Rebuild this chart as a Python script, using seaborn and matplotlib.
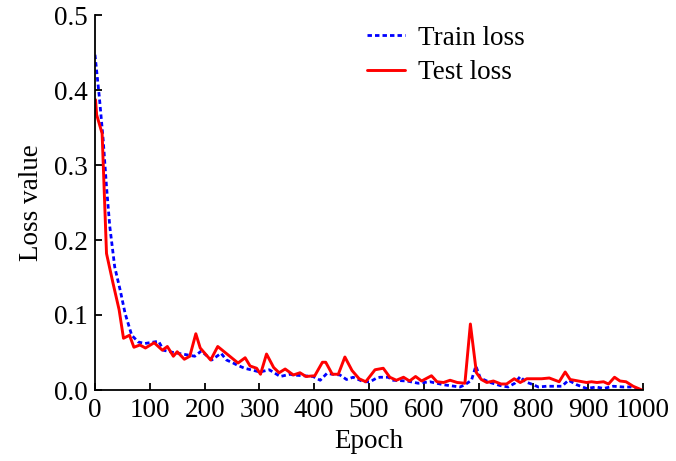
import matplotlib
matplotlib.use("Agg")
import matplotlib.pyplot as plt
import seaborn as sns
import pandas as pd

train_epochs = [0, 8, 15, 21, 27, 36, 46, 55, 67, 79, 91, 116, 125, 143, 167, 182, 194,
                213, 230, 240, 252, 260, 273, 301, 318, 338, 356, 362, 398, 411, 423,
                447, 459, 471, 490, 502, 514, 520, 535, 544, 569, 590, 611, 636, 666,
                675, 687, 695, 703, 712, 721, 739, 754, 766, 776, 785, 800, 809, 824,
                852, 864, 879, 897, 915, 928, 946, 964, 979, 997]
train_loss = [0.447, 0.39, 0.333, 0.271, 0.218, 0.164, 0.133, 0.102, 0.073, 0.064, 0.062,
              0.065, 0.053, 0.050, 0.047, 0.045, 0.052, 0.040, 0.049, 0.040, 0.036, 0.033,
              0.029, 0.024, 0.027, 0.018, 0.021, 0.020, 0.018, 0.013, 0.022, 0.020, 0.014,
              0.017, 0.011, 0.011, 0.016, 0.017, 0.017, 0.013, 0.012, 0.009, 0.011, 0.007,
              0.004, 0.007, 0.013, 0.032, 0.016, 0.013, 0.010, 0.006, 0.004, 0.009, 0.018,
              0.011, 0.007, 0.004, 0.005, 0.005, 0.013, 0.007, 0.002, 0.004, 0.002, 0.005,
              0.004, 0.004, 0.0]

test_epochs = [1, 3, 13, 21, 33, 44, 52, 63, 71, 82, 92, 108, 123, 132, 143, 150, 163, 173,
               184, 192, 211, 224, 261, 274, 283, 295, 302, 313, 326, 336, 347, 362, 374,
               385, 401, 415, 421, 433, 444, 456, 469, 482, 494, 511, 526, 538, 550, 563,
               574, 585, 596, 614, 624, 636, 648, 661, 675, 685, 696, 705, 715, 727, 741,
               751, 765, 776, 788, 815, 829, 847, 858, 867, 882, 897, 906, 916, 928, 937,
               948, 958, 969, 982, 998]
test_loss = [0.387, 0.367, 0.342, 0.182, 0.142, 0.107, 0.069, 0.073, 0.057, 0.060, 0.056,
             0.063, 0.053, 0.058, 0.045, 0.051, 0.041, 0.045, 0.075, 0.056, 0.040, 0.058,
             0.036, 0.043, 0.032, 0.029, 0.021, 0.048, 0.030, 0.023, 0.028, 0.020, 0.023,
             0.018, 0.019, 0.037, 0.037, 0.021, 0.021, 0.044, 0.026, 0.015, 0.011, 0.027,
             0.029, 0.017, 0.013, 0.017, 0.012, 0.018, 0.012, 0.019, 0.011, 0.010, 0.013,
             0.010, 0.009, 0.088, 0.023, 0.014, 0.010, 0.012, 0.008, 0.008, 0.015, 0.010,
             0.015, 0.015, 0.016, 0.011, 0.024, 0.014, 0.012, 0.010, 0.011, 0.010, 0.011,
             0.008, 0.017, 0.012, 0.011, 0.005, 0.0]

x_ticks = [0, 100, 200, 300, 400, 500, 600, 700, 800, 900, 1000]
y_ticks = [0.0, 0.1, 0.2, 0.3, 0.4, 0.5]

sns.set_style("ticks")
plt.rcParams["font.family"] = ["Liberation Serif", "DejaVu Serif"]
plt.rcParams["text.color"] = "black"
plt.rcParams["axes.labelcolor"] = "black"

FS = 19.5

fig = plt.figure(figsize=(6.76, 4.61), dpi=100)
ax = fig.add_axes([95 / 676, 1 - 390 / 461, (643 - 95) / 676, (390 - 15) / 461])

train_df = pd.DataFrame({"Epoch": train_epochs, "Loss": train_loss})
test_df = pd.DataFrame({"Epoch": test_epochs, "Loss": test_loss})

sns.lineplot(data=train_df, x="Epoch", y="Loss", ax=ax, color="#0000ff",
             linewidth=2.0, linestyle=(0, (1.6, 1.1)), label="Train loss")
sns.lineplot(data=test_df, x="Epoch", y="Loss", ax=ax, color="#ff0000",
             linewidth=2.1, label="Test loss")

ax.set_xlim(0, 1000)
ax.set_ylim(0, 0.5)
ax.set_xticks(x_ticks)
ax.set_xticklabels([str(t) for t in x_ticks])
ax.set_yticks(y_ticks)
ax.set_yticklabels([f"{t:.1f}" for t in y_ticks])

for s in ["top", "right"]:
    ax.spines[s].set_visible(False)
for s in ["left", "bottom"]:
    ax.spines[s].set_linewidth(1.3)
    ax.spines[s].set_color("black")

ax.tick_params(axis="both", direction="in", length=5, width=1.3, labelsize=FS,
               colors="black")
ax.tick_params(axis="x", pad=6)
ax.tick_params(axis="y", pad=5)

ax.set_xlabel("Epoch", fontsize=FS, labelpad=4, color="black")
ax.set_ylabel("Loss value", fontsize=FS, labelpad=7, color="black")

leg = ax.legend(loc="upper left", bbox_to_anchor=(0.476, 1.0), frameon=False,
                fontsize=FS, handlelength=1.4, handletextpad=0.48,
                labelspacing=0.35, borderaxespad=0)
for t in leg.get_texts():
    t.set_color("black")

fig.savefig("out.png", dpi=100)
